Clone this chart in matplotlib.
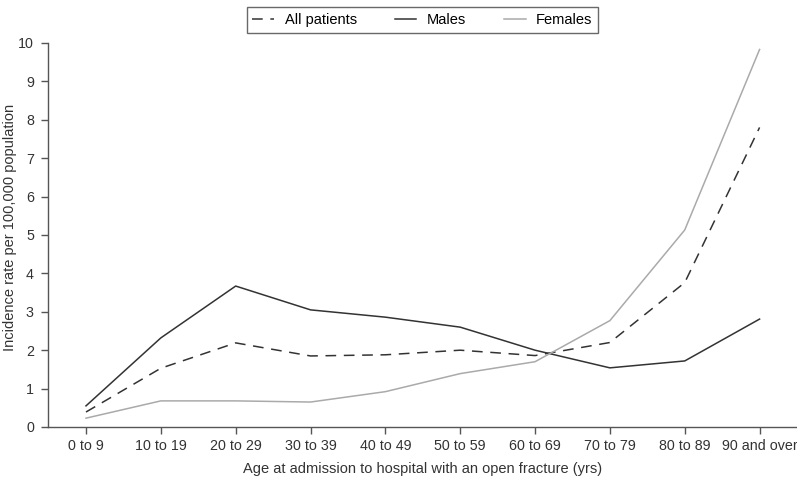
import matplotlib.pyplot as plt
import numpy as np

plt.rcParams['font.family'] = ['Liberation Sans', 'DejaVu Sans']

ages = ['0 to 9', '10 to 19', '20 to 29', '30 to 39', '40 to 49',
        '50 to 59', '60 to 69', '70 to 79', '80 to 89', '90 and over']
all_patients = [0.39, 1.53, 2.19, 1.85, 1.88, 2.0, 1.86, 2.2, 3.76, 7.8]
males = [0.55, 2.32, 3.67, 3.05, 2.86, 2.6, 2.0, 1.54, 1.72, 2.81]
females = [0.23, 0.68, 0.68, 0.65, 0.92, 1.39, 1.7, 2.77, 5.13, 9.83]

fig = plt.figure(figsize=(7.97, 4.88), dpi=100)
ax = fig.add_axes([0.060, 0.125, 0.94, 0.787])

x = np.arange(len(ages))
ax.plot(x, all_patients, color='#333333', lw=1.1, ls=(0, (7, 5)), label='All patients')
ax.plot(x, males, color='#333333', lw=1.1, label='Males')
ax.plot(x, females, color='#aaaaaa', lw=1.1, label='Females')

ax.set_xlim(-0.51, 9.5)
ax.set_ylim(0, 10)
ax.set_yticks(range(0, 11))
ax.set_xticks(x)
ax.set_xticklabels(ages)

for s in ['top', 'right']:
    ax.spines[s].set_visible(False)
for s in ['left', 'bottom']:
    ax.spines[s].set_color('#555555')
    ax.spines[s].set_linewidth(1.0)
ax.tick_params(colors='#555555', labelcolor='#333333', labelsize=10.3, length=5, width=1)
ax.tick_params(axis='x', pad=4)
ax.tick_params(axis='y', pad=5)

ax.set_xlabel('Age at admission to hospital with an open fracture (yrs)', fontsize=10.5, color='#333333', labelpad=6)
ax.set_ylabel('Incidence rate per 100,000 population', fontsize=10.5, color='#333333')
ax.yaxis.set_label_coords(-0.041, 0.52)

leg = fig.legend(loc='upper center', bbox_to_anchor=(0.53, 1.0), ncol=3, fontsize=10.5,
                 frameon=True, fancybox=False, edgecolor='#444444', handlelength=1.5,
                 columnspacing=2.6, borderpad=0.4, handletextpad=0.7)
leg.get_frame().set_linewidth(1.0)

fig.savefig('out.png', dpi=100)
